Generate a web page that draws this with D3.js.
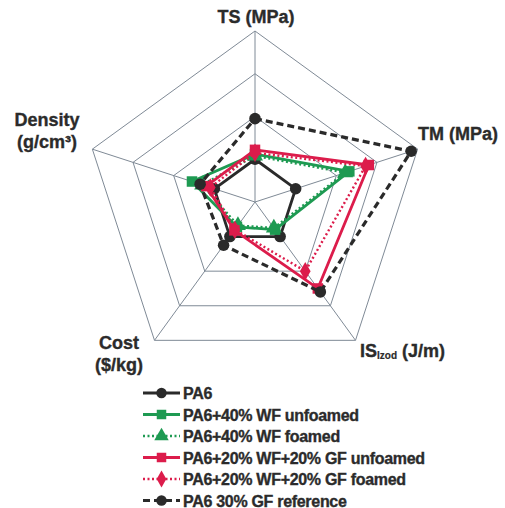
<!DOCTYPE html>
<html>
<head>
<meta charset="utf-8">
<script src="https://cdn.jsdelivr.net/npm/d3@7"></script>
<style>
  body { margin: 0; background: #fff; }
  svg text { font-family: "Liberation Sans", Arial, sans-serif; font-weight: bold; fill: #2b2b2b; stroke: #2b2b2b; stroke-width: 0.35px; }
</style>
</head>
<body>
<div id="chart"></div>
<script>
// axes, clockwise from the top
var axes = ["TS", "TM", "IS", "Cost", "Density"];
var ringLevels = [1, 2, 3, 4];

// values relative to neat PA6 (= 1)
var pa6        = [1.00, 1.00, 1.00, 1.00, 1.00];
var wfUnfoamed = [1.12, 2.32, 0.80, 0.72, 1.55];
var wfFoamed   = [1.08, 2.22, 0.75, 0.68, 1.30];
var hybUnfoamed= [1.22, 2.80, 2.50, 0.82, 1.20];
var hybFoamed  = [1.15, 2.72, 2.00, 0.80, 1.10];
var gfRef      = [1.95, 3.84, 2.60, 1.25, 1.35];

var seriesNames = ["PA6", "PA6+40% WF unfoamed", "PA6+40% WF foamed",
  "PA6+20% WF+20% GF unfoamed", "PA6+20% WF+20% GF foamed", "PA6 30% GF reference"];

var series = [
  {name: seriesNames[0], values: pa6, color: "#2a2a2a", dash: null, width: 2.8, marker: "circle"},
  {name: seriesNames[1], values: wfUnfoamed, color: "#1e9a52", dash: null, width: 2.8, marker: "square"},
  {name: seriesNames[2], values: wfFoamed, color: "#1e9a52", dash: "2,2.5", width: 2.4, marker: "triangle"},
  {name: seriesNames[3], values: hybUnfoamed, color: "#dc1c4b", dash: null, width: 2.8, marker: "square"},
  {name: seriesNames[4], values: hybFoamed, color: "#dc1c4b", dash: "2,2.5", width: 2.4, marker: "diamond"},
  {name: seriesNames[5], values: gfRef, color: "#2a2a2a", dash: "7,4", width: 3.2, marker: "circle"}
];

var W = 505, H = 508;
var cx = 255, cy = 202, R = 171;

var svg = d3.select("#chart").append("svg")
  .attr("width", W).attr("height", H);

var r = d3.scaleLinear().domain([0, 4]).range([0, R]);
var angle = d3.scalePoint().domain(axes.concat(["_end"])).range([0, 2 * Math.PI]);

var g = svg.append("g").attr("transform", "translate(" + cx + "," + cy + ")");

function pt(axis, v) {
  var a = angle(axis);
  return [r(v) * Math.sin(a), -r(v) * Math.cos(a)];
}

// grid rings
g.selectAll("polygon.ring")
  .data(ringLevels)
  .enter()
  .append("polygon")
  .attr("class", "ring")
  .attr("points", function(d) {
    return axes.map(function(a) { return pt(a, d).join(","); }).join(" ");
  })
  .style("fill", "none")
  .style("stroke", "#7f8a96")
  .style("stroke-width", 1);

// spokes
g.selectAll("line.spoke")
  .data(axes)
  .enter()
  .append("line")
  .attr("class", "spoke")
  .attr("x1", 0).attr("y1", 0)
  .attr("x2", function(d) { return pt(d, 4)[0]; })
  .attr("y2", function(d) { return pt(d, 4)[1]; })
  .style("stroke", "#7f8a96")
  .style("stroke-width", 1);

var line = d3.lineRadial()
  .angle(function(d, i) { return angle(axes[i]); })
  .radius(function(d) { return r(d); })
  .curve(d3.curveLinearClosed);

function drawMarker(sel, type, color, size) {
  if (type == "circle") {
    sel.append("circle").attr("r", size * 0.55).style("fill", color);
  } else {
    var sym = type == "square" ? d3.symbolSquare : type == "triangle" ? d3.symbolTriangle : d3.symbolDiamond;
    sel.append("path")
      .attr("d", d3.symbol().type(sym).size(size * size * (type == "diamond" ? 0.9 : 1.0)))
      .style("fill", color);
  }
}

series.forEach(function(s) {
  g.append("path")
    .datum(s.values)
    .attr("d", line)
    .style("fill", "none")
    .style("stroke", s.color)
    .style("stroke-width", s.width)
    .style("stroke-dasharray", s.dash)
    .style("stroke-linejoin", "round");

  g.selectAll(null)
    .data(s.values)
    .enter()
    .append("g")
    .attr("transform", function(d, i) { return "translate(" + pt(axes[i], d) + ")"; })
    .each(function() { drawMarker(d3.select(this), s.marker, s.color, 10.5); });
});

// axis titles
var lab = svg.append("g").style("font-size", "18px");
lab.append("text").attr("x", 256).attr("y", 23).attr("text-anchor", "middle").text("TS (MPa)");
lab.append("text").attr("x", 418).attr("y", 140).text("TM (MPa)");
lab.append("text").attr("x", 47).attr("y", 126).attr("text-anchor", "middle").text("Density");
lab.append("text").attr("x", 47).attr("y", 148).attr("text-anchor", "middle").text("(g/cm³)");
lab.append("text").attr("x", 119).attr("y", 349).attr("text-anchor", "middle").text("Cost");
lab.append("text").attr("x", 119).attr("y", 371).attr("text-anchor", "middle").text("($/kg)");
var isLab = lab.append("text").attr("x", 360).attr("y", 357);
isLab.append("tspan").text("IS");
isLab.append("tspan").attr("dy", 2).style("font-size", "10px").style("stroke-width", "0.2px").text("Izod");
isLab.append("tspan").attr("dy", -2).text(" (J/m)");

// legend
var legend = svg.append("g").attr("transform", "translate(143,393)");
var rows = legend.selectAll("g")
  .data(series)
  .enter()
  .append("g")
  .attr("transform", function(d, i) { return "translate(0," + (i * 21.5) + ")"; });

rows.append("line")
  .attr("x1", 0).attr("x2", 37).attr("y1", 0).attr("y2", 0)
  .style("stroke", function(d) { return d.color; })
  .style("stroke-width", function(d) { return d.width; })
  .style("stroke-dasharray", function(d) { return d.dash; });

rows.each(function(d) {
  var m = d3.select(this).append("g").attr("transform", "translate(18.5,0)");
  drawMarker(m, d.marker, d.color, 9.5);
});

rows.append("text")
  .attr("x", 40).attr("y", 6)
  .style("font-size", "16px")
  .style("letter-spacing", "-0.3px")
  .text(function(d) { return d.name; });
</script>
</body>
</html>
